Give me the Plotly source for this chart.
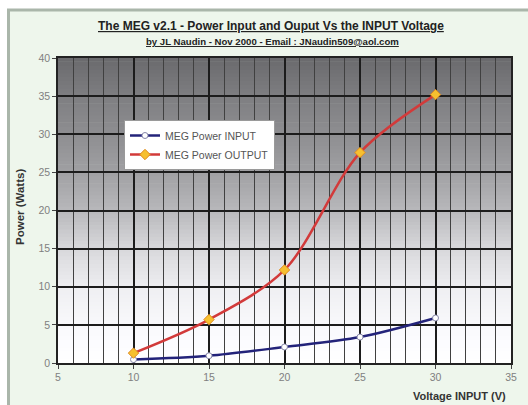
import plotly.graph_objects as go

# ---- data ----
voltage = [10, 15, 20, 25, 30]
power_input = [0.45, 0.95, 2.1, 3.4, 5.9]
power_output = [1.3, 5.7, 12.2, 27.6, 35.2]
input_name = "MEG Power INPUT"
output_name = "MEG Power OUTPUT"
title_line1 = "The MEG v2.1 - Power Input and Ouput Vs the INPUT Voltage"
title_line2 = "by JL Naudin - Nov 2000 - Email : JNaudin509@aol.com"
x_title = "Voltage INPUT (V)"
y_title = "Power (Watts)"

W, H = 528, 405
ML, MR, MT, MB = 58, 17, 58, 42
PW, PH = W - ML - MR, H - MT - MB

def px_to_paper_x(px):
    return (px - ML) / PW

def px_to_paper_y(py):
    return (H - MB - py) / PH

FONT = "Liberation Sans, Arial, sans-serif"

fig = go.Figure()
fig.add_trace(go.Scatter(
    x=voltage, y=power_input, name=input_name, mode="lines+markers",
    line=dict(color="#23237a", width=2.5, shape="spline", smoothing=0.9),
    marker=dict(symbol="circle", size=6, color="#ffffff",
                line=dict(color="#8888aa", width=1)),
))
fig.add_trace(go.Scatter(
    x=voltage, y=power_output, name=output_name, mode="lines+markers",
    line=dict(color="#d23a3a", width=2.5, shape="spline", smoothing=0.9),
    marker=dict(symbol="diamond", size=8, color="#f6c030",
                line=dict(color="#e08a20", width=1)),
))

shapes = []
# outer chart border (top and left visible)
shapes.append(dict(type="rect", xref="paper", yref="paper", layer="below",
                   x0=px_to_paper_x(8.5), x1=px_to_paper_x(560),
                   y0=px_to_paper_y(440), y1=px_to_paper_y(10),
                   fillcolor="#eef6ec", line=dict(color="#aab6aa", width=3)))
# vertical gradient in the plot area
stops = [(0.0, 255), (0.125, 249), (0.25, 238), (0.375, 216), (0.5, 184),
         (0.625, 160), (0.75, 142), (0.875, 126), (1.0, 106)]

def grey(f):
    for (f0, g0), (f1, g1) in zip(stops[:-1], stops[1:]):
        if f0 <= f <= f1:
            return g0 + (g1 - g0) * (f - f0) / (f1 - f0)
    return stops[-1][1]

N = 80
for i in range(N):
    f0, f1 = i / N, (i + 1) / N
    g = int(round(grey((f0 + f1) / 2)))
    col = f"rgb({g},{g},{min(255, g + 3)})"
    shapes.append(dict(type="rect", xref="x domain", yref="y domain", layer="below",
                       x0=0, x1=1, y0=f0, y1=f1 + 0.002,
                       fillcolor=col, line=dict(width=0)))

annotations = [
    dict(text=f"<b><span style='text-decoration:underline'>{title_line1}</span></b>",
         xref="paper", yref="paper", x=px_to_paper_x(271), y=px_to_paper_y(26),
         showarrow=False, font=dict(family=FONT, size=12, color="#222222"),
         xanchor="center", yanchor="middle"),
    dict(text=f"<b><span style='text-decoration:underline'>{title_line2}</span></b>",
         xref="paper", yref="paper", x=px_to_paper_x(272), y=px_to_paper_y(41),
         showarrow=False, font=dict(family=FONT, size=9.6, color="#222222"),
         xanchor="center", yanchor="middle"),
    dict(text=f"<b>{y_title}</b>", textangle=-90,
         xref="paper", yref="paper", x=px_to_paper_x(20), y=px_to_paper_y(207),
         showarrow=False, font=dict(family=FONT, size=11.5, color="#333333"),
         xanchor="center", yanchor="middle"),
    dict(text=f"<b>{x_title}</b>",
         xref="paper", yref="paper", x=px_to_paper_x(508), y=px_to_paper_y(396),
         showarrow=False, font=dict(family=FONT, size=11, color="#333333"),
         xanchor="right", yanchor="middle"),
]

fig.update_layout(
    width=W, height=H,
    margin=dict(l=ML, r=MR, t=MT, b=MB, pad=0, autoexpand=False),
    paper_bgcolor="#ffffff", plot_bgcolor="#ffffff",
    font=dict(family=FONT, size=10, color="#666666"),
    shapes=shapes, annotations=annotations,
    showlegend=True,
    legend=dict(x=px_to_paper_x(124), y=px_to_paper_y(120), xanchor="left", yanchor="top",
                bgcolor="#ffffff", bordercolor="#9a9a9a", borderwidth=1,
                font=dict(family=FONT, size=10.5, color="#555555"),
                tracegroupgap=0, itemwidth=30),
)
fig.update_xaxes(range=[5, 35], dtick=5, tick0=5, showgrid=True,
                 gridcolor="#1c1c1c", gridwidth=1.5,
                 minor=dict(dtick=1, showgrid=True, gridcolor="#404040", gridwidth=1),
                 showline=True, linecolor="#222222", linewidth=1.5, mirror=True,
                 ticks="outside", ticklen=4, tickcolor="#444444",
                 tickfont=dict(family=FONT, size=10.5, color="#808080"),
                 zeroline=False, fixedrange=True, automargin=False)
fig.update_yaxes(range=[0, 40], dtick=5, tick0=0, showgrid=True,
                 gridcolor="#1c1c1c", gridwidth=1.5,
                 showline=True, linecolor="#222222", linewidth=1.5, mirror=True,
                 ticks="outside", ticklen=4, tickcolor="#444444",
                 tickfont=dict(family=FONT, size=10.5, color="#808080"),
                 zeroline=False, fixedrange=True, automargin=False)

fig.write_html(
    "out.html",
    config={"displayModeBar": False},
    post_script="document.body.style.margin='0';document.body.style.overflow='hidden';",
)
